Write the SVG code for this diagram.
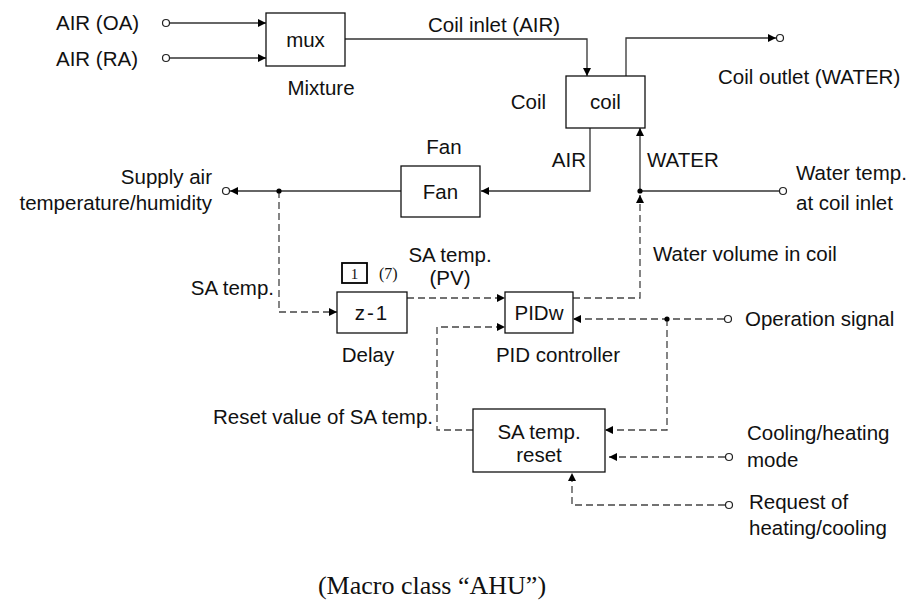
<svg xmlns="http://www.w3.org/2000/svg" width="911" height="603" viewBox="0 0 911 603">
<style>
  text { font-family: "Liberation Sans", Arial, sans-serif; font-size: 20.5px; fill: #111; }
  .serif { font-family: "Liberation Serif", "Times New Roman", serif; }
  .box { fill: #fff; stroke: #111; stroke-width: 1.3; }
  .ln { fill: none; stroke: #333; stroke-width: 1.3; }
  .dl { fill: none; stroke: #444; stroke-width: 1.3; stroke-dasharray: 7 4; }
  .term { fill: #fff; stroke: #222; stroke-width: 1.2; }
  .dot { fill: #000; }
  .mid { text-anchor: middle; }
  .end { text-anchor: end; }
</style>
<defs>
  <marker id="ah" viewBox="0 0 10 10" refX="10" refY="5" markerWidth="10" markerHeight="8" orient="auto" markerUnits="userSpaceOnUse">
    <path d="M0,0 L10,5 L0,10 z" fill="#000"/>
  </marker>
</defs>
<rect width="911" height="603" fill="#fff"/>

<g id="connectors">
  <line class="ln" x1="170" y1="23" x2="266" y2="23" marker-end="url(#ah)"/>
  <line class="ln" x1="170" y1="58" x2="266" y2="58" marker-end="url(#ah)"/>
  <polyline class="ln" points="345,39 587,39 587,76" marker-end="url(#ah)"/>
  <polyline class="ln" points="626,76 626,38 776,38" marker-end="url(#ah)"/>
  <polyline class="ln" points="590,128 590,191 481,191" marker-end="url(#ah)"/>
  <line class="ln" x1="640" y1="191" x2="640" y2="128" marker-end="url(#ah)"/>
  <line class="ln" x1="640" y1="191" x2="779" y2="191"/>
  <line class="ln" x1="401" y1="191" x2="230" y2="191" marker-end="url(#ah)"/>
  <polyline class="dl" points="279,191 279,312 337,312" marker-end="url(#ah)"/>
  <line class="dl" x1="407" y1="298" x2="505" y2="298" marker-end="url(#ah)"/>
  <polyline class="dl" points="573,298 640,298 640,195" marker-end="url(#ah)"/>
  <line class="dl" x1="724" y1="319" x2="573" y2="319" marker-end="url(#ah)"/>
  <polyline class="dl" points="667,319 667,430 605,430" marker-end="url(#ah)"/>
  <polyline class="dl" points="473,430 437,430 437,327 505,327" marker-end="url(#ah)"/>
  <line class="dl" x1="725" y1="457" x2="609" y2="457" marker-end="url(#ah)"/>
  <polyline class="dl" points="725,505 572,505 572,473" marker-end="url(#ah)"/>
  <circle class="dot" cx="640" cy="191" r="2.6"/>
  <circle class="dot" cx="279" cy="191" r="2.6"/>
  <circle class="dot" cx="667" cy="319" r="2.6"/>
</g>

<g id="terminals">
  <circle class="term" cx="166" cy="23" r="3.5"/>
  <circle class="term" cx="166" cy="58" r="3.5"/>
  <circle class="term" cx="780" cy="38" r="3.5"/>
  <circle class="term" cx="783" cy="191" r="3.5"/>
  <circle class="term" cx="226" cy="191" r="3.5"/>
  <circle class="term" cx="728" cy="319" r="3.5"/>
  <circle class="term" cx="729" cy="457" r="3.5"/>
  <circle class="term" cx="729" cy="505" r="3.5"/>
</g>

<g id="labels">
  <text x="56" y="30">AIR (OA)</text>
  <text x="56" y="66">AIR (RA)</text>
  <text x="428" y="32">Coil inlet (AIR)</text>
  <text x="718" y="84">Coil outlet (WATER)</text>
  <text x="546" y="109" class="end">Coil</text>
  <text x="586" y="167" class="end">AIR</text>
  <text x="647" y="167">WATER</text>
  <text x="796" y="180">Water temp.</text>
  <text x="796" y="210">at coil inlet</text>
  <text x="212" y="184" class="end">Supply air</text>
  <text x="212" y="210" class="end">temperature/humidity</text>
  <text x="274" y="295" class="end">SA temp.</text>
  <text x="450" y="262" class="mid">SA temp.</text>
  <text x="450" y="285" class="mid">(PV)</text>
  <text x="653" y="261">Water volume in coil</text>
  <text x="745" y="326">Operation signal</text>
  <text x="433" y="424" class="end">Reset value of SA temp.</text>
  <text x="747" y="440">Cooling/heating</text>
  <text x="747" y="467">mode</text>
  <text x="749" y="509">Request of</text>
  <text x="749" y="535">heating/cooling</text>
  <text x="432" y="594" class="mid serif" style="font-size:26px">(Macro class “AHU”)</text>
</g>

<g id="mux">
  <rect class="box" x="266" y="13" width="79" height="53"/>
  <text x="305.5" y="47" class="mid">mux</text>
  <text x="321" y="95" class="mid">Mixture</text>
</g>

<g id="coil">
  <rect class="box" x="566" y="76" width="79" height="52"/>
  <text x="605.5" y="109" class="mid">coil</text>
</g>

<g id="fan">
  <rect class="box" x="401" y="166" width="79" height="51"/>
  <text x="440.5" y="199" class="mid">Fan</text>
  <text x="444" y="154" class="mid">Fan</text>
</g>

<g id="delay">
  <rect class="box" x="337" y="292" width="70" height="41"/>
  <text x="372" y="320" class="mid" style="letter-spacing:2px">z-1</text>
  <text x="368" y="362" class="mid">Delay</text>
  <rect x="342" y="263" width="25" height="20" fill="#fff" stroke="#000" stroke-width="1.8"/>
  <text x="354.5" y="279" class="mid serif" style="font-size:15px">1</text>
  <text x="379" y="279" class="serif" style="font-size:16px">(7)</text>
</g>

<g id="pid">
  <rect class="box" x="505" y="292" width="68" height="41"/>
  <text x="539" y="320" class="mid">PIDw</text>
  <text x="558" y="362" class="mid">PID controller</text>
</g>

<g id="reset">
  <rect class="box" x="473" y="409" width="132" height="63"/>
  <text x="539" y="439" class="mid">SA temp.</text>
  <text x="539" y="462" class="mid">reset</text>
</g>
</svg>
